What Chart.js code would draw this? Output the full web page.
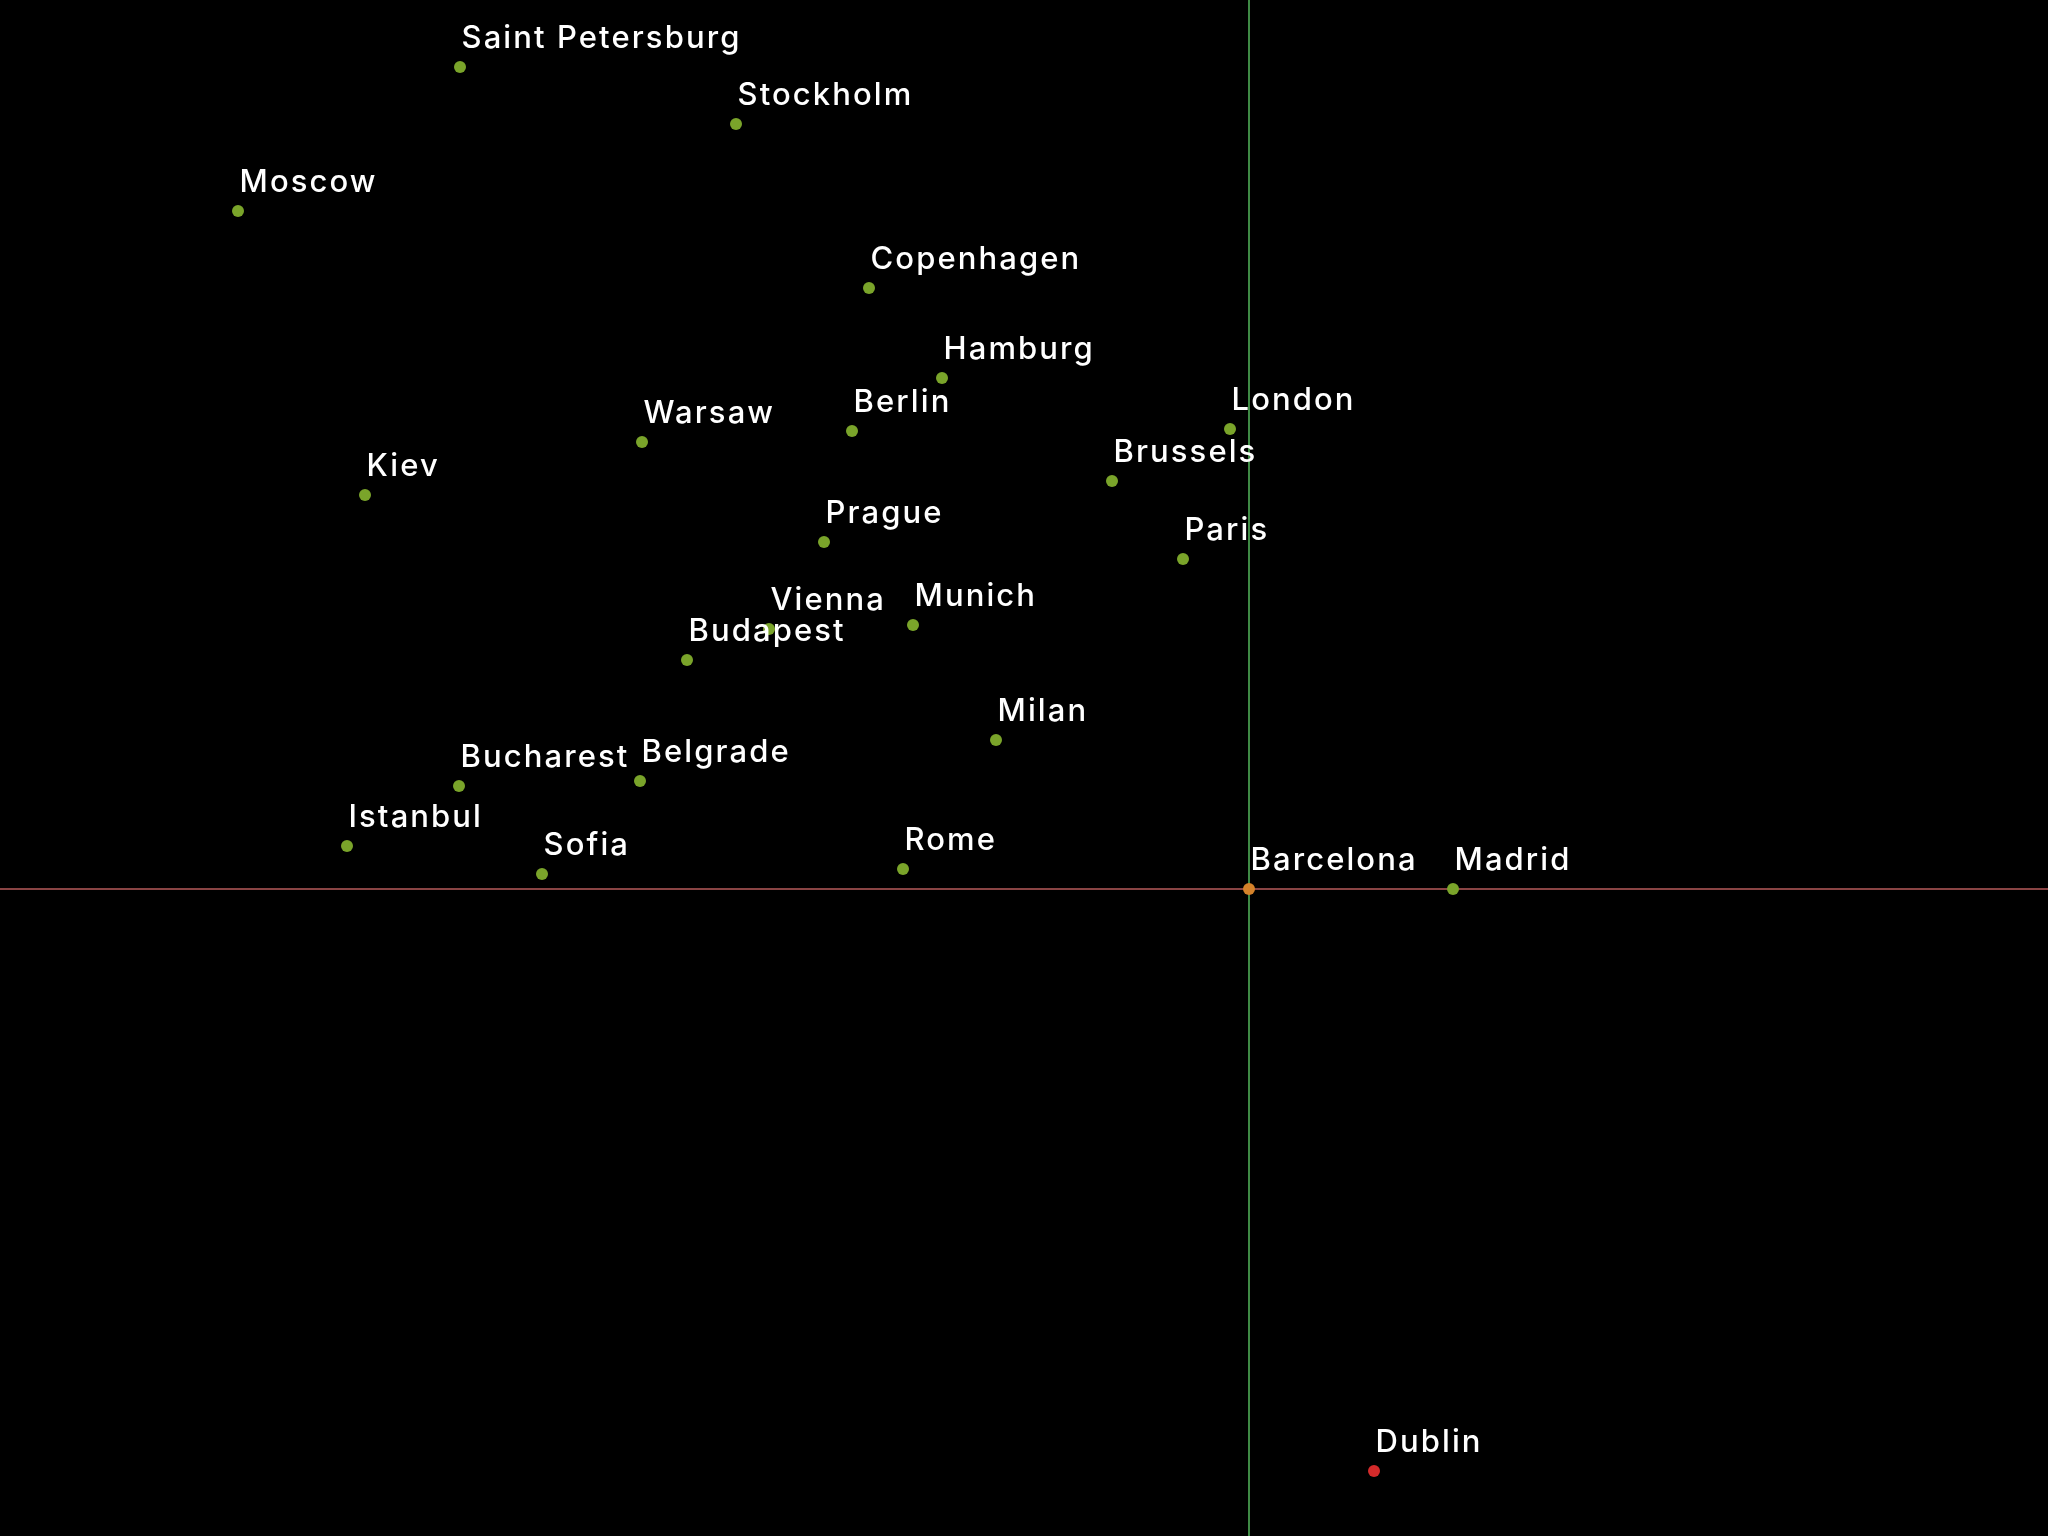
<!DOCTYPE html>
<html>
<head>
<meta charset="utf-8">
<script src="https://cdn.jsdelivr.net/npm/chart.js@4.4.1/dist/chart.umd.min.js"></script>
<style>
  html, body { margin: 0; padding: 0; background: #000; }
  canvas { display: block; }
</style>
</head>
<body>
<canvas id="c" width="2048" height="1536"></canvas>
<script>
// City positions relative to Barcelona (origin)
const cities = ["Saint Petersburg","Stockholm","Moscow","Copenhagen","Hamburg","Warsaw","Berlin","London","Kiev","Brussels","Prague","Paris","Vienna","Munich","Budapest","Milan","Bucharest","Belgrade","Istanbul","Sofia","Rome","Barcelona","Madrid","Dublin"];
const xValues = [-789,-513,-1011,-380,-307,-607,-397,-19,-884,-137,-425,-66,-480,-336,-562,-253,-790,-609,-902,-707,-346,0,204,125];
const yValues = [822,765,678,601,511,447,458,460,394,408,347,330,260,264,229,149,103,108,43,15,20,0,0,-582];
const xRange = [-1249, 799];
const yRange = [-647, 889];
const originCity = "Barcelona";
const outlierCity = "Dublin";

const oi = cities.indexOf(originCity);
const pts = cities.map((n, i) => ({ x: xValues[i], y: yValues[i], name: n }));
const colors = cities.map(n => n === originCity ? '#d4822a' : (n === outlierCity ? '#d42a2a' : '#7aa42a'));

const labelPlugin = {
  id: 'cityLabels',
  afterDatasetsDraw(chart) {
    const ctx = chart.ctx;
    const meta = chart.getDatasetMeta(0);
    ctx.save();
    ctx.font = '500 31px Inter';
    if ('letterSpacing' in ctx) ctx.letterSpacing = '2.1px';
    ctx.fillStyle = '#ffffff';
    ctx.textAlign = 'left';
    ctx.textBaseline = 'alphabetic';
    meta.data.forEach((el, i) => {
      ctx.fillText(cities[i], el.x + 1.5, el.y - 19.5);
    });
    ctx.restore();
  }
};

const bgPlugin = {
  id: 'bg',
  beforeDraw(chart) {
    const ctx = chart.ctx;
    ctx.save();
    ctx.fillStyle = '#000';
    ctx.fillRect(0, 0, chart.width, chart.height);
    ctx.restore();
  }
};

new Chart(document.getElementById('c'), {
  type: 'scatter',
  data: {
    datasets: [
      {
        data: pts,
        pointRadius: 6,
        pointHoverRadius: 6,
        pointBorderWidth: 0,
        pointBackgroundColor: colors,
        pointBorderColor: colors,
        clip: false,
        order: 0
      },
      {
        type: 'line',
        data: [{ x: xValues[oi], y: yRange[0] }, { x: xValues[oi], y: yRange[1] }],
        borderColor: '#3f8a45',
        borderWidth: 2,
        pointRadius: 0,
        order: 2
      },
      {
        type: 'line',
        data: [{ x: xRange[0], y: yValues[oi] }, { x: xRange[1], y: yValues[oi] }],
        borderColor: '#8a4444',
        borderWidth: 2,
        pointRadius: 0,
        order: 3
      }
    ]
  },
  options: {
    responsive: false,
    animation: false,
    devicePixelRatio: 1,
    layout: { padding: 0, autoPadding: false },
    plugins: { legend: { display: false }, tooltip: { enabled: false } },
    scales: {
      x: { type: 'linear', min: xRange[0], max: xRange[1], display: false },
      y: { type: 'linear', min: yRange[0], max: yRange[1], display: false }
    }
  },
  plugins: [bgPlugin, labelPlugin]
});
</script>
</body>
</html>
